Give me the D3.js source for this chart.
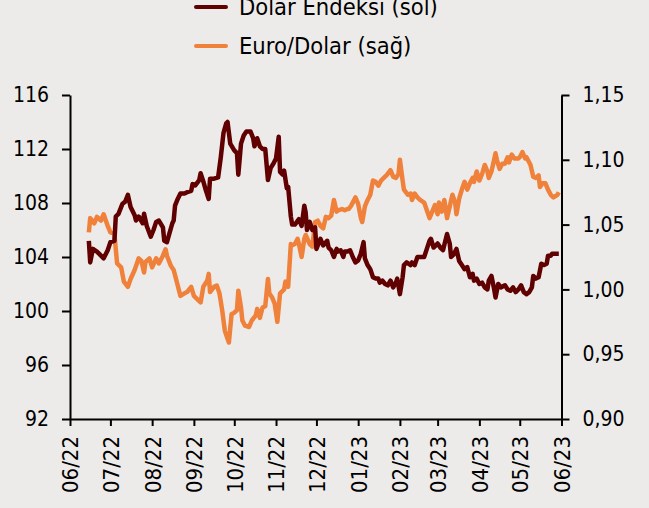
<!DOCTYPE html>
<html>
<head>
<meta charset="utf-8">
<script src="https://cdn.jsdelivr.net/npm/d3@7"></script>
<style>
  html, body { margin: 0; padding: 0; background: #edebe9; }
  svg text { font-family: "DejaVu Sans Condensed", "DejaVu Sans", sans-serif; fill: #000; }
</style>
</head>
<body>
<svg id="chart"></svg>
<script>
// Dolar Endeksi (sol eksen)
const dxyDates = ["2022-06-15","2022-06-16","2022-06-18","2022-06-21","2022-06-24","2022-06-26","2022-06-29","2022-07-01","2022-07-04","2022-07-05","2022-07-07","2022-07-10","2022-07-12","2022-07-14","2022-07-16","2022-07-19","2022-07-20","2022-07-22","2022-07-25","2022-07-26","2022-07-28","2022-07-31","2022-08-02","2022-08-04","2022-08-06","2022-08-09","2022-08-10","2022-08-12","2022-08-14","2022-08-16","2022-08-17","2022-08-18","2022-08-20","2022-08-22","2022-08-25","2022-08-27","2022-08-30","2022-08-31","2022-09-02","2022-09-05","2022-09-06","2022-09-08","2022-09-10","2022-09-12","2022-09-13","2022-09-16","2022-09-19","2022-09-21","2022-09-23","2022-09-25","2022-09-26","2022-09-28","2022-10-01","2022-10-03","2022-10-04","2022-10-06","2022-10-08","2022-10-10","2022-10-13","2022-10-15","2022-10-16","2022-10-18","2022-10-20","2022-10-22","2022-10-24","2022-10-26","2022-10-28","2022-10-30","2022-11-01","2022-11-03","2022-11-04","2022-11-06","2022-11-07","2022-11-09","2022-11-10","2022-11-12","2022-11-13","2022-11-15","2022-11-18","2022-11-20","2022-11-22","2022-11-23","2022-11-24","2022-11-26","2022-11-28","2022-11-30","2022-12-01","2022-12-04","2022-12-06","2022-12-09","2022-12-10","2022-12-12","2022-12-14","2022-12-16","2022-12-17","2022-12-19","2022-12-21","2022-12-22","2022-12-24","2022-12-26","2022-12-28","2022-12-30","2023-01-01","2023-01-03","2023-01-05","2023-01-06","2023-01-08","2023-01-10","2023-01-12","2023-01-14","2023-01-16","2023-01-17","2023-01-19","2023-01-21","2023-01-23","2023-01-25","2023-01-27","2023-01-29","2023-01-30","2023-02-01","2023-02-03","2023-02-04","2023-02-06","2023-02-09","2023-02-10","2023-02-12","2023-02-14","2023-02-17","2023-02-19","2023-02-21","2023-02-23","2023-02-24","2023-02-26","2023-03-01","2023-03-03","2023-03-05","2023-03-08","2023-03-10","2023-03-11","2023-03-13","2023-03-15","2023-03-17","2023-03-19","2023-03-21","2023-03-23","2023-03-25","2023-03-27","2023-03-28","2023-03-30","2023-04-01","2023-04-03","2023-04-05","2023-04-07","2023-04-08","2023-04-10","2023-04-12","2023-04-13","2023-04-15","2023-04-17","2023-04-20","2023-04-22","2023-04-24","2023-04-26","2023-04-28","2023-04-30","2023-05-02","2023-05-04","2023-05-06","2023-05-08","2023-05-10","2023-05-11","2023-05-13","2023-05-15","2023-05-17","2023-05-19","2023-05-21","2023-05-22","2023-05-24","2023-05-25","2023-05-27","2023-05-30"];
const dxyValues = [105.2,103.6,104.6,104.4,104.1,103.9,104.5,105.1,105.2,107.0,107.2,107.95,108.1,108.6,107.7,107.1,106.7,107.0,106.5,107.2,106.3,105.5,106.0,106.6,106.7,106.2,105.2,105.1,105.8,106.5,106.7,107.8,108.3,108.7,108.7,108.8,108.9,109.4,109.3,109.7,110.2,109.6,108.9,108.3,109.8,109.8,109.9,111.4,113.2,113.9,114.0,112.4,111.9,111.7,110.1,112.4,113.0,113.3,113.3,112.8,112.2,112.8,112.2,112.0,112.0,109.7,110.6,110.9,111.3,112.9,110.3,110.1,110.4,109.1,109.2,107.0,106.4,106.4,106.8,106.3,107.8,107.3,106.0,106.6,106.0,106.2,104.6,105.35,104.85,105.2,104.7,104.5,104.0,104.6,104.4,104.5,104.0,104.4,104.4,104.5,104.0,103.6,103.75,104.25,105.1,103.9,103.4,103.1,102.5,102.4,102.4,102.1,102.25,102.0,101.9,102.25,101.75,102.1,102.4,101.25,102.5,103.4,103.6,103.4,103.6,103.4,104.0,104.0,104.0,104.6,105.2,105.35,104.7,105.0,104.7,104.5,105.7,105.0,104.0,104.2,104.6,103.7,103.4,103.1,103.25,102.5,102.75,102.25,102.4,102.0,102.1,101.75,101.6,102.25,102.6,101.6,101.0,102.0,101.75,101.9,101.6,101.5,101.75,101.4,101.6,101.9,101.4,101.25,101.4,101.75,102.6,102.4,102.5,103.5,103.4,103.5,104.1,104.1,104.25,104.25,104.25];

// Euro/Dolar (sağ eksen)
const eurDates = ["2022-06-15","2022-06-16","2022-06-19","2022-06-21","2022-06-24","2022-06-26","2022-06-29","2022-07-01","2022-07-04","2022-07-05","2022-07-06","2022-07-09","2022-07-11","2022-07-14","2022-07-16","2022-07-19","2022-07-21","2022-07-22","2022-07-24","2022-07-26","2022-07-27","2022-07-30","2022-08-01","2022-08-04","2022-08-06","2022-08-09","2022-08-11","2022-08-12","2022-08-15","2022-08-17","2022-08-20","2022-08-22","2022-08-25","2022-08-27","2022-08-30","2022-09-01","2022-09-05","2022-09-06","2022-09-08","2022-09-11","2022-09-12","2022-09-13","2022-09-16","2022-09-18","2022-09-20","2022-09-22","2022-09-24","2022-09-26","2022-09-27","2022-09-29","2022-10-01","2022-10-03","2022-10-04","2022-10-06","2022-10-07","2022-10-09","2022-10-12","2022-10-14","2022-10-17","2022-10-18","2022-10-20","2022-10-22","2022-10-24","2022-10-26","2022-10-27","2022-10-29","2022-10-31","2022-11-02","2022-11-04","2022-11-07","2022-11-08","2022-11-10","2022-11-12","2022-11-13","2022-11-15","2022-11-17","2022-11-18","2022-11-20","2022-11-22","2022-11-23","2022-11-26","2022-11-28","2022-11-30","2022-12-02","2022-12-04","2022-12-06","2022-12-08","2022-12-10","2022-12-12","2022-12-14","2022-12-16","2022-12-17","2022-12-20","2022-12-22","2022-12-24","2022-12-25","2022-12-27","2022-12-30","2023-01-01","2023-01-03","2023-01-04","2023-01-06","2023-01-08","2023-01-10","2023-01-12","2023-01-14","2023-01-16","2023-01-18","2023-01-20","2023-01-22","2023-01-25","2023-01-27","2023-01-29","2023-01-31","2023-02-01","2023-02-03","2023-02-04","2023-02-07","2023-02-09","2023-02-10","2023-02-12","2023-02-14","2023-02-16","2023-02-19","2023-02-21","2023-02-23","2023-02-25","2023-02-27","2023-03-01","2023-03-02","2023-03-04","2023-03-06","2023-03-08","2023-03-10","2023-03-12","2023-03-14","2023-03-15","2023-03-17","2023-03-19","2023-03-21","2023-03-23","2023-03-25","2023-03-27","2023-03-28","2023-03-30","2023-04-01","2023-04-03","2023-04-05","2023-04-07","2023-04-08","2023-04-10","2023-04-13","2023-04-14","2023-04-16","2023-04-18","2023-04-20","2023-04-22","2023-04-23","2023-04-25","2023-04-27","2023-04-30","2023-05-01","2023-05-03","2023-05-05","2023-05-06","2023-05-09","2023-05-11","2023-05-13","2023-05-15","2023-05-16","2023-05-18","2023-05-20","2023-05-22","2023-05-24","2023-05-26","2023-05-29","2023-05-30"];
const eurValues = [1.044,1.055,1.051,1.056,1.053,1.058,1.049,1.044,1.043,1.031,1.020,1.017,1.006,1.002,1.008,1.015,1.021,1.024,1.022,1.013,1.021,1.024,1.017,1.024,1.020,1.026,1.031,1.026,1.018,1.015,1.003,0.995,0.997,0.998,1.002,0.995,0.991,0.990,1.002,1.007,1.012,0.998,1.002,1.003,0.997,0.984,0.968,0.962,0.959,0.981,0.982,0.984,0.999,0.986,0.976,0.972,0.971,0.976,0.980,0.985,0.978,0.986,0.987,1.008,0.997,0.994,0.989,0.975,0.997,1.000,1.006,1.002,1.035,1.034,1.035,1.039,1.035,1.025,1.039,1.042,1.035,1.033,1.052,1.053,1.049,1.047,1.056,1.055,1.057,1.069,1.060,1.061,1.062,1.061,1.062,1.062,1.065,1.071,1.066,1.055,1.052,1.064,1.069,1.073,1.084,1.083,1.080,1.084,1.086,1.088,1.092,1.087,1.086,1.089,1.100,1.084,1.077,1.073,1.074,1.069,1.074,1.071,1.069,1.067,1.061,1.055,1.060,1.065,1.058,1.067,1.060,1.069,1.055,1.064,1.073,1.067,1.058,1.070,1.077,1.083,1.077,1.082,1.086,1.083,1.091,1.084,1.089,1.096,1.091,1.086,1.091,1.105,1.100,1.093,1.097,1.097,1.102,1.098,1.104,1.101,1.101,1.102,1.106,1.101,1.102,1.096,1.087,1.086,1.088,1.079,1.082,1.082,1.077,1.073,1.071,1.073,1.075];

const leftTicks = [92, 96, 100, 104, 108, 112, 116];
const rightTicks = [0.90, 0.95, 1.00, 1.05, 1.10, 1.15];
const seriesNames = ["Dolar Endeksi (sol)", "Euro/Dolar (sağ)"];
const seriesColors = ["#600000", "#f0813a"];

const width = 649;
const height = 508;
const margin = { top: 95, right: 87.5, bottom: 89, left: 70 };

const svg = d3.select('#chart')
    .attr('width', width)
    .attr('height', height);

const parse = d3.timeParse('%Y-%m-%d');

const x = d3.scaleTime()
    .domain([new Date(2022, 5, 1), new Date(2023, 5, 1)])
    .range([margin.left, width - margin.right]);

const yLeft = d3.scaleLinear()
    .domain([92, 116])
    .range([height - margin.bottom, margin.top]);

const yRight = d3.scaleLinear()
    .domain([0.90, 1.15])
    .range([height - margin.bottom, margin.top]);

const dxy = dxyDates.map((d, i) => ({ date: parse(d), value: dxyValues[i] }));
const eur = eurDates.map((d, i) => ({ date: parse(d), value: eurValues[i] }));

// Axes
const comma = d3.format('.2f');

svg.append('g')
    .attr('class', 'axis')
    .attr('transform', `translate(${margin.left},0)`)
    .call(d3.axisLeft(yLeft).tickValues(leftTicks).tickSize(8).tickSizeOuter(0).tickPadding(13));

svg.append('g')
    .attr('class', 'axis')
    .attr('transform', `translate(${width - margin.right},0)`)
    .call(d3.axisRight(yRight).tickValues(rightTicks).tickSize(8).tickSizeOuter(0).tickPadding(13)
        .tickFormat(d => comma(d).replace('.', ',')));

const xAxis = svg.append('g')
    .attr('class', 'axis')
    .attr('transform', `translate(0,${height - margin.bottom})`)
    .call(d3.axisBottom(x).ticks(d3.timeMonth.every(1)).tickSize(7).tickSizeOuter(0)
        .tickFormat(d3.timeFormat('%m/%y')));

svg.selectAll('.axis text').style('font-size', '21px');

xAxis.selectAll('text')
    .attr('transform', 'rotate(-90)')
    .attr('text-anchor', 'end')
    .attr('x', -17)
    .attr('y', 0)
    .attr('dy', '0.36em')
    .style('font-size', '22px');

svg.selectAll('.axis path, .axis line')
    .attr('stroke', '#000')
    .attr('stroke-width', 2);

// Lines
const lineLeft = d3.line().x(d => x(d.date)).y(d => yLeft(d.value));
const lineRight = d3.line().x(d => x(d.date)).y(d => yRight(d.value));

svg.append('path')
    .datum(eur)
    .attr('fill', 'none')
    .attr('stroke', seriesColors[1])
    .attr('stroke-width', 4.5)
    .attr('stroke-linejoin', 'round')
    .attr('d', lineRight);

svg.append('path')
    .datum(dxy)
    .attr('fill', 'none')
    .attr('stroke', seriesColors[0])
    .attr('stroke-width', 4.5)
    .attr('stroke-linejoin', 'round')
    .attr('d', lineLeft);

// Legend
const legend = svg.append('g')
    .selectAll('g')
    .data(seriesNames)
    .join('g')
    .attr('transform', (d, i) => `translate(196,${7 + i * 39})`);

legend.append('line')
    .attr('x1', 0).attr('x2', 30)
    .attr('stroke', (d, i) => seriesColors[i])
    .attr('stroke-width', 4)
    .attr('stroke-linecap', 'round');

legend.append('text')
    .attr('x', 43)
    .attr('dy', '0.36em')
    .style('font-size', '23.5px')
    .text(d => d);
</script>
</body>
</html>
